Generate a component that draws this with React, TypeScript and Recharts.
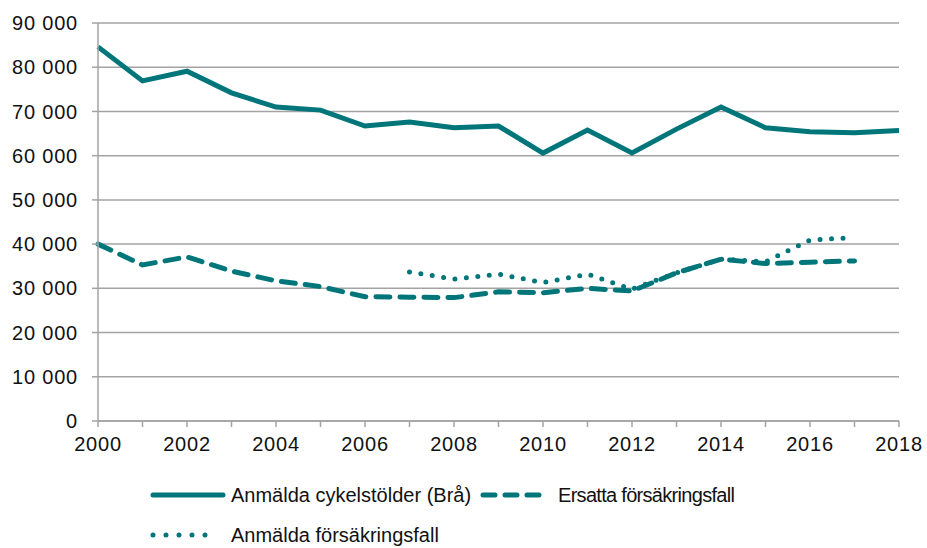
import React from 'react';
import { LineChart, Line, XAxis, YAxis, CartesianGrid } from 'recharts';

const years = [2000, 2001, 2002, 2003, 2004, 2005, 2006, 2007, 2008, 2009, 2010, 2011, 2012, 2013, 2014, 2015, 2016, 2017, 2018];
const cykelstolder = [84600, 76900, 79100, 74200, 71000, 70300, 66700, 67600, 66300, 66700, 60600, 65800, 60600, 66000, 71000, 66300, 65400, 65200, 65700];
const ersatta = [40000, 35300, 37100, 33900, 31700, 30400, 28100, 28000, 27900, 29200, 29000, 30000, 29400, 33500, 36600, 35600, 35900, 36200, null];
const anmalda = [null, null, null, null, null, null, null, 33700, 32100, 33200, 31300, 33200, 29800, 33500, 36600, 36000, 40900, 41500, null];
const yTicks = [0, 10000, 20000, 30000, 40000, 50000, 60000, 70000, 80000, 90000];

const TEAL = '#00767a';
const GRID = '#a3a3a3';
const FONT = '"Liberation Sans", Arial, sans-serif';

const data = years.map((year, i) => ({
  year,
  cykel: cykelstolder[i],
  ersatta: ersatta[i],
  anmalda: anmalda[i],
}));

const fmt = (v: number) => (v === 0 ? '0' : `${Math.floor(v / 1000)} ${String(v % 1000).padStart(3, '0')}`);

const tickStyle = { fill: '#111', fontSize: 20, fontFamily: FONT, letterSpacing: 0.8 };

const LegendItem = ({ x, y, iconW, textX, dash, label, spacing = 0 }: { x: number; y: number; iconW: number; textX: number; dash?: string; label: string; spacing?: number }) => (
  <div style={{ position: 'absolute', left: x, top: y - 12, height: 24, width: 400, lineHeight: '24px' }}>
    <svg width={iconW} height={24} style={{ position: 'absolute', left: 0, top: 0 }}>
      <line x1={3} y1={12} x2={iconW - 3} y2={12} stroke={TEAL} strokeWidth={5} strokeLinecap="round" strokeDasharray={dash} />
    </svg>
    <span style={{ position: 'absolute', left: textX - x, top: 0, whiteSpace: 'nowrap', letterSpacing: spacing }}>{label}</span>
  </div>
);

export default function App() {
  return (
    <div style={{ position: 'absolute', left: 0, top: 0, width: 927, height: 548, background: '#fff', fontFamily: FONT }}>
      <LineChart width={927} height={548} data={data} margin={{ top: 23, right: 28, left: 0, bottom: 97 }}>
        <CartesianGrid vertical={false} stroke={GRID} strokeWidth={1.5} />
        <XAxis
          dataKey="year"
          type="number"
          domain={[2000, 2018]}
          ticks={years}
          interval={0}
          height={30}
          tickFormatter={(v: number) => (v % 2 === 0 ? String(v) : '')}
          axisLine={{ stroke: GRID, strokeWidth: 1.5 }}
          tickLine={{ stroke: GRID, strokeWidth: 1.5 }}
          tickSize={6}
          tickMargin={10}
          tick={tickStyle}
        />
        <YAxis
          domain={[0, 90000]}
          ticks={yTicks}
          width={98}
          tickFormatter={fmt}
          axisLine={{ stroke: GRID, strokeWidth: 1.5 }}
          tickLine={{ stroke: GRID, strokeWidth: 1.5 }}
          tickSize={6}
          tickMargin={14}
          tick={tickStyle}
        />
        <Line type="linear" dataKey="cykel" stroke={TEAL} strokeWidth={5} dot={false} isAnimationActive={false} />
        <Line type="linear" dataKey="ersatta" stroke={TEAL} strokeWidth={5} strokeDasharray="14 10" strokeLinecap="round" dot={false} isAnimationActive={false} />
        <Line type="linear" dataKey="anmalda" stroke={TEAL} strokeWidth={5} strokeDasharray="0 11.5" strokeLinecap="round" dot={false} isAnimationActive={false} />
      </LineChart>
      <div style={{ fontSize: 20, color: '#111' }}>
        <LegendItem x={150} y={495} iconW={76} textX={231} label="Anmälda cykelstölder (Brå)" />
        <LegendItem x={480} y={495} iconW={65} textX={558} dash="12 10" spacing={-0.7} label="Ersatta försäkringsfall" />
        <LegendItem x={150} y={535} iconW={71} textX={231} dash="0 13" label="Anmälda försäkringsfall" />
      </div>
    </div>
  );
}
